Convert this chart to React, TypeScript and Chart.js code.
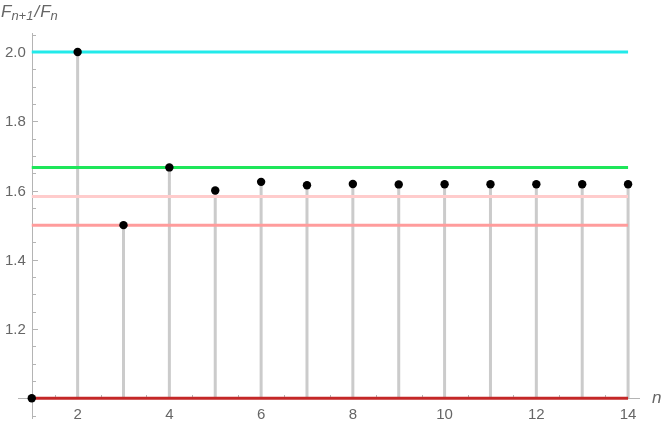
import React, { useEffect, useRef } from "react";
import { Chart, registerables } from "chart.js";

Chart.register(...registerables);

// ---- Data ----
const nValues = [1, 2, 3, 4, 5, 6, 7, 8, 9, 10, 11, 12, 13, 14];
const ratioValues = [
  1.0, 2.0, 1.5, 1.6667, 1.6, 1.625, 1.6154, 1.619, 1.6176, 1.6182, 1.618,
  1.618, 1.618, 1.618,
];
const refLevels = [2.0, 1.6667, 1.583, 1.5, 1.0];
const refColors = ["#22eaea", "#1ee65a", "#ffcccc", "#ff9c9c", "#c42828"];
const xMajorTicks = [2, 4, 6, 8, 10, 12, 14];
const yMajorTicks = [1.2, 1.4, 1.6, 1.8, 2.0];
const yTickLabels = ["1.2", "1.4", "1.6", "1.8", "2.0"];

const X_MIN = 0.7;
const X_MAX = 14.26;
const Y_MIN = 0.94;
const Y_MAX = 2.055;

const axesPlugin = {
  id: "mmaAxes",
  beforeDatasetsDraw(chart: any) {
    const { ctx } = chart;
    const xs = chart.scales.x;
    const ys = chart.scales.y;
    const ca = chart.chartArea;
    const x0 = xs.getPixelForValue(1);
    const y0 = ys.getPixelForValue(1);
    ctx.save();
    ctx.strokeStyle = "#b4b4b4";
    ctx.lineWidth = 1;
    // axis lines
    ctx.beginPath();
    ctx.moveTo(ca.left, Math.round(y0) + 0.5);
    ctx.lineTo(ca.right, Math.round(y0) + 0.5);
    ctx.moveTo(Math.round(x0) + 0.5, ca.top);
    ctx.lineTo(Math.round(x0) + 0.5, ca.bottom);
    ctx.stroke();
    // x ticks
    ctx.beginPath();
    for (let k = 2; k <= 28; k++) {
      const v = k / 2;
      const px = Math.round(xs.getPixelForValue(v)) + 0.5;
      const major = xMajorTicks.includes(v);
      const len = major ? 5 : 3;
      ctx.moveTo(px, Math.round(y0));
      ctx.lineTo(px, Math.round(y0) - len);
    }
    // y ticks
    for (let k = 19; k <= 41; k++) {
      const v = k / 20;
      const py = Math.round(ys.getPixelForValue(v)) + 0.5;
      const major = yMajorTicks.some((m) => Math.abs(m - v) < 1e-6);
      const len = major ? 5 : 3;
      ctx.moveTo(Math.round(x0) + 1, py);
      ctx.lineTo(Math.round(x0) + 1 + len, py);
    }
    ctx.stroke();

    // labels
    ctx.fillStyle = "#666666";
    ctx.font = "15px 'Liberation Sans', Arial, sans-serif";
    ctx.textAlign = "center";
    ctx.textBaseline = "alphabetic";
    xMajorTicks.forEach((v) => {
      ctx.fillText(String(v), xs.getPixelForValue(v), y0 + 21);
    });
    ctx.textAlign = "right";
    ctx.textBaseline = "middle";
    yMajorTicks.forEach((v, i) => {
      ctx.fillText(yTickLabels[i], x0 - 6, ys.getPixelForValue(v) + 1);
    });

    // axis label n
    ctx.textAlign = "left";
    ctx.textBaseline = "alphabetic";
    ctx.font = "italic 17px 'Liberation Sans', Arial, sans-serif";
    ctx.fillText("n", ca.right + 12, y0 + 5);

    // axis label F_{n+1}/F_n
    const big = "italic 17px 'Liberation Sans', Arial, sans-serif";
    const small = "italic 13px 'Liberation Sans', Arial, sans-serif";
    let cx = 1;
    const base = 17;
    ctx.font = big;
    ctx.fillText("F", cx, base);
    cx += ctx.measureText("F").width;
    ctx.font = small;
    ctx.fillText("n+1", cx, base + 3);
    cx += ctx.measureText("n+1").width + 1;
    ctx.font = big;
    ctx.fillText("/", cx, base);
    cx += ctx.measureText("/").width + 1;
    ctx.fillText("F", cx, base);
    cx += ctx.measureText("F").width;
    ctx.font = small;
    ctx.fillText("n", cx, base + 3);
    ctx.restore();
  },
};

export default function App() {
  const canvasRef = useRef<HTMLCanvasElement | null>(null);

  useEffect(() => {
    const canvas = canvasRef.current;
    if (!canvas) return;

    const stemData: any[] = [];
    nValues.forEach((n, i) => {
      stemData.push({ x: n, y: 1 });
      stemData.push({ x: n, y: ratioValues[i] });
      stemData.push({ x: n, y: null });
    });

    const refDatasets = refLevels.map((lvl, i) => ({
      type: "line" as const,
      data: [
        { x: nValues[0], y: lvl },
        { x: nValues[nValues.length - 1], y: lvl },
      ],
      borderColor: refColors[i],
      borderWidth: 3,
      pointRadius: 0,
      fill: false,
      order: 1,
    }));

    const chart = new Chart(canvas, {
      type: "scatter",
      data: {
        datasets: [
          {
            type: "scatter",
            data: nValues.map((n, i) => ({ x: n, y: ratioValues[i] })),
            backgroundColor: "#000000",
            borderColor: "#000000",
            pointRadius: 4.2,
            borderWidth: 0,
            order: 0,
          },
          ...refDatasets,
          {
            type: "line",
            data: stemData,
            borderColor: "#cbcbcb",
            borderWidth: 3,
            pointRadius: 0,
            spanGaps: false,
            fill: false,
            order: 2,
          },
        ] as any,
      },
      options: {
        animation: false,
        responsive: false,
        devicePixelRatio: 1,
        layout: { padding: { left: 18, top: 33, right: 24, bottom: 6 } },
        plugins: {
          legend: { display: false },
          tooltip: { enabled: false },
          title: { display: false },
        },
        scales: {
          x: { type: "linear", display: false, min: X_MIN, max: X_MAX },
          y: { type: "linear", display: false, min: Y_MIN, max: Y_MAX },
        },
      },
      plugins: [axesPlugin],
    });

    return () => chart.destroy();
  }, []);

  return (
    <div
      style={{
        position: "fixed",
        left: 0,
        top: 0,
        width: 664,
        height: 425,
        background: "#ffffff",
      }}
    >
      <canvas ref={canvasRef} width={664} height={425} />
    </div>
  );
}
